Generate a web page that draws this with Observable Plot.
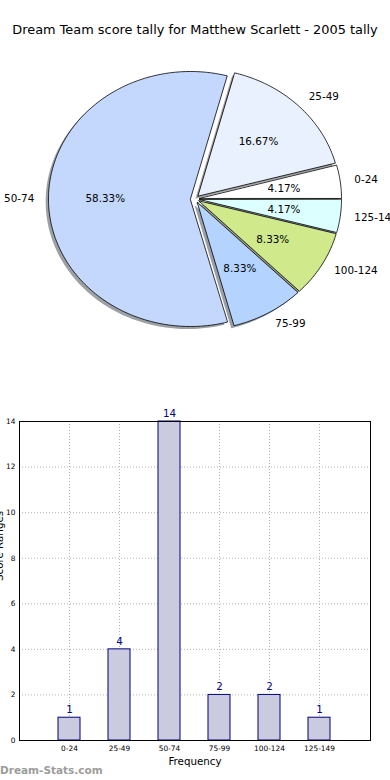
<!DOCTYPE html>
<html><head><meta charset="utf-8">
<script src="https://cdn.jsdelivr.net/npm/d3@7"></script>
<script src="https://cdn.jsdelivr.net/npm/@observablehq/plot@0.6"></script>
<style>
body{margin:0;width:390px;height:780px;position:relative;overflow:hidden;background:#fff;font-family:"DejaVu Sans",sans-serif;}
#title{position:absolute;left:0;top:21px;width:390px;text-align:center;font-size:12.9px;line-height:18px;white-space:nowrap;color:#000;}
#pie{position:absolute;left:0;top:45px;}
#bar{position:absolute;left:0;top:400px;}
#wm{position:absolute;left:0;top:763px;font-size:10.5px;font-weight:bold;color:#9c9c9c;line-height:14px;}
svg{font-family:"DejaVu Sans",sans-serif;overflow:visible;}
</style></head><body>
<div id="title">Dream Team score tally for Matthew Scarlett - 2005 tally</div>
<div id="pie"></div>
<div id="bar"></div>
<div id="wm">Dream-Stats.com</div>
<script>
// ---- data ----
const categories = ["0-24", "25-49", "50-74", "75-99", "100-124", "125-149"];
const counts = [1, 4, 14, 2, 2, 1];
const sliceColors = ["#ffffff", "#eaf1fe", "#c4d8fe", "#b4d4ff", "#cfe98b", "#dcffff"];
const yTicks = [0, 2, 4, 6, 8, 10, 12, 14];
const explode = 0.032;
const xLabel = "Frequency";
const yLabel = "Score Ranges";

// ---- pie geometry (matplotlib-style: start at 0°, counter-clockwise) ----
const total = d3.sum(counts);
let cum = 0;
const slices = counts.map((c, i) => {
  const t1 = 2 * Math.PI * cum / total;
  cum += c;
  const t2 = 2 * Math.PI * cum / total;
  const mid = (t1 + t2) / 2;
  const ox = explode * Math.cos(mid), oy = explode * Math.sin(mid);
  const n = Math.max(2, Math.ceil((t2 - t1) / (Math.PI / 180)));
  const pts = [{x: ox, y: oy}];
  for (let k = 0; k <= n; k++) {
    const t = t1 + (t2 - t1) * k / n;
    pts.push({x: ox + Math.cos(t), y: oy + Math.sin(t)});
  }
  const rgb = d3.rgb(sliceColors[i]);
  return {
    cat: categories[i], value: c, color: sliceColors[i],
    shade: d3.rgb(rgb.r * 0.3, rgb.g * 0.3, rgb.b * 0.3).formatHex(),
    pts,
    lx: ox + 1.1 * Math.cos(mid), ly: oy + 1.1 * Math.sin(mid),
    px: ox + 0.6 * Math.cos(mid), py: oy + 0.6 * Math.sin(mid),
    pct: (100 * c / total).toFixed(2) + "%"
  };
});

const rx = 142, ry = 127.5, pieW = 390, pieH = 310, cxPx = 194.5, cyPx = 153.5;

const pie = Plot.plot({
  width: pieW, height: pieH,
  marginTop: 0, marginBottom: 0, marginLeft: 0, marginRight: 0,
  x: {domain: [-cxPx / rx, (pieW - cxPx) / rx], axis: null},
  y: {domain: [-(pieH - cyPx) / ry, cyPx / ry], axis: null},
  marks: [
    ...slices.map(s => Plot.line(s.pts, {x: "x", y: "y", curve: "linear-closed", fill: s.shade, fillOpacity: 0.5, stroke: "none", dx: -2.8, dy: 2.55})),
    ...slices.map(s => Plot.line(s.pts, {x: "x", y: "y", curve: "linear-closed", fill: s.color, stroke: "#000", strokeWidth: 0.8})),
    Plot.text(slices.filter(s => s.lx >= 0), {x: "lx", y: "ly", text: "cat", textAnchor: "start", fontSize: 10.4, fill: "#000"}),
    Plot.text(slices.filter(s => s.lx < 0), {x: "lx", y: "ly", text: "cat", textAnchor: "end", fontSize: 10.4, fill: "#000"}),
    Plot.text(slices, {x: "px", y: "py", text: "pct", textAnchor: "middle", fontSize: 10.4, fill: "#000"})
  ]
});
document.getElementById("pie").append(pie);

// ---- bar chart ----
const bars = categories.map((c, i) => ({cat: c, count: counts[i]}));
const bar = Plot.plot({
  width: 390, height: 380,
  marginTop: 21, marginBottom: 40, marginLeft: 19, marginRight: 20,
  x: {type: "band", domain: categories, paddingInner: 0.55, paddingOuter: 0.775, axis: null},
  y: {domain: [0, 14], axis: null},
  marks: [
    Plot.ruleX(categories, {x: d => d, stroke: "#b4b4b4", strokeWidth: 1, strokeDasharray: "1,2"}),
    Plot.ruleY(yTicks, {y: d => d, stroke: "#b4b4b4", strokeWidth: 1, strokeDasharray: "1,2"}),
    Plot.barY(bars, {x: "cat", y: "count", fill: "#cbcbe0", stroke: "#00007a", strokeWidth: 1}),
    Plot.text(bars, {x: "cat", y: "count", text: d => String(d.count), dy: -8, fontSize: 10.3, fill: "#00008b"}),
    Plot.frame({stroke: "#000", strokeWidth: 1}),
    Plot.axisX({tickSize: 0, tickPadding: 5, fontSize: 7.4, label: null}),
    Plot.axisY({ticks: yTicks, tickSize: 0, tickPadding: 4, fontSize: 7.4, label: null}),
    Plot.text([xLabel], {frameAnchor: "bottom", dy: 21, text: d => d, fontSize: 10.3, lineAnchor: "middle", fill: "#000"}),
    Plot.text([yLabel], {frameAnchor: "left", dx: -17, text: d => d, rotate: -90, fontSize: 10.3, lineAnchor: "bottom", fill: "#000"})
  ]
});
document.getElementById("bar").append(bar);
</script>
</body></html>
